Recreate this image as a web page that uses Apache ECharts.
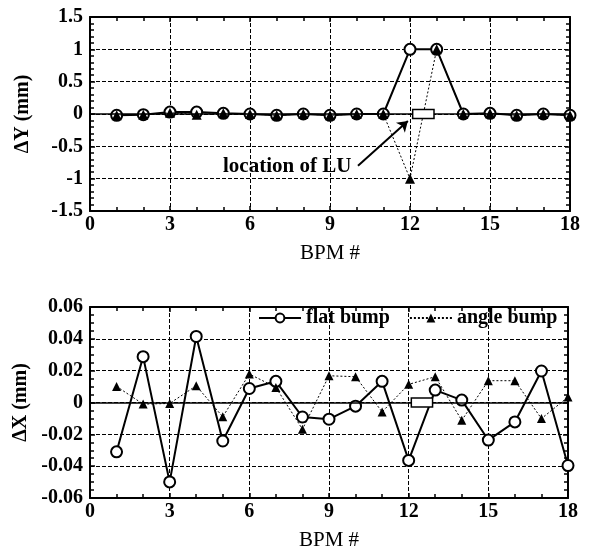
<!DOCTYPE html>
<html>
<head>
<meta charset="utf-8">
<script src="https://cdn.jsdelivr.net/npm/echarts@6/dist/echarts.min.js"></script>
<style>
  html, body { margin: 0; padding: 0; background: #fff; }
  #main { width: 594px; height: 552px; }
</style>
</head>
<body>
<div id="main"></div>
<script>
var bpm = [1, 2, 3, 4, 5, 6, 7, 8, 9, 10, 11, 12, 13, 14, 15, 16, 17, 18];
var dyFlat = [-0.02, -0.01, 0.03, 0.03, 0.01, 0, -0.02, 0, -0.02, 0, 0, 1, 1, 0, 0.01, -0.02, 0, -0.02];
var dyAngle = [-0.02, -0.01, 0.02, -0.01, 0.01, 0, -0.02, 0, -0.02, 0, 0, -1, 1, 0, 0.01, -0.02, 0, -0.02];
var dxFlat = [-0.031, 0.0288, -0.0499, 0.0415, -0.0242, 0.0088, 0.0133, -0.0091, -0.0105, -0.0023,
              0.0133, -0.0364, 0.0078, 0.0015, -0.0236, -0.0122, 0.0198, -0.0396];
var dxAngle = [0.0101, -0.001, -0.0006, 0.0105, -0.009, 0.0179, 0.0095, -0.0168, 0.0168, 0.0162,
               -0.0059, 0.0114, 0.0162, -0.0112, 0.0137, 0.0137, -0.0101, 0.0034];
var luBox = [[12.1, 12.9]];
var arrowFrom = [10.05, -0.8];
var arrowTo = [11.92, -0.11];

var serif = "'Liberation Serif', 'Times New Roman', serif";

function pairs(xs, ys) {
    return xs.map(function (x, i) { return [x, ys[i]]; });
}

function xAxisOf(grid, pos, showLabel) {
    return {
        type: 'value', gridIndex: grid, position: pos,
        min: 0, max: 18, interval: 3,
        axisLine: { show: true, onZero: false, lineStyle: { color: '#000', width: 2 } },
        axisTick: { show: true, inside: true, length: 5, lineStyle: { color: '#000', width: 1.5 } },
        minorTick: { show: true, splitNumber: 3, length: 4, lineStyle: { color: '#000', width: 1.5 } },
        splitLine: { show: showLabel, lineStyle: { color: '#000', width: 1, type: [4, 2] } },
        axisLabel: { show: showLabel, color: '#000', fontFamily: serif, fontWeight: 'bold', fontSize: 20, margin: 4 },
        name: showLabel ? 'BPM #' : '',
        nameLocation: 'middle', nameGap: 32,
        nameTextStyle: { color: '#000', fontFamily: serif, fontSize: 21 }
    };
}

function yAxisOf(grid, pos, showLabel, min, max, step, minor, name) {
    return {
        type: 'value', gridIndex: grid, position: pos,
        min: min, max: max, interval: step,
        axisLine: { show: true, onZero: false, lineStyle: { color: '#000', width: 2 } },
        axisTick: { show: true, inside: true, length: 5, lineStyle: { color: '#000', width: 1.5 } },
        minorTick: { show: true, splitNumber: minor, length: 4, lineStyle: { color: '#000', width: 1.5 } },
        splitLine: { show: showLabel, lineStyle: { color: '#000', width: 1, type: [4, 2] } },
        axisLabel: { show: showLabel, color: '#000', fontFamily: serif, fontWeight: 'bold', fontSize: 20, margin: 7 },
        name: showLabel ? name : '',
        nameLocation: 'middle', nameGap: 57,
        nameTextStyle: { color: '#000', fontFamily: serif, fontWeight: 'bold', fontSize: 20 }
    };
}

function flatSeries(x, y, data, extra) {
    var s = {
        name: 'flat bump', type: 'line', xAxisIndex: x, yAxisIndex: y,
        data: data, symbol: 'emptyCircle', symbolSize: 11, showAllSymbol: true,
        itemStyle: { color: '#000', borderWidth: 1.5 },
        lineStyle: { color: '#000', width: 2 },
        z: 3, animation: false
    };
    if (extra) s.markLine = extra;
    return s;
}

function angleSeries(x, y, data, size) {
    return {
        name: 'angle bump', type: 'line', xAxisIndex: x, yAxisIndex: y,
        data: data, symbol: 'triangle', symbolSize: size, showAllSymbol: true,
        itemStyle: { color: '#000' },
        lineStyle: { color: '#000', width: 1, type: [2, 2] },
        z: 4, animation: false
    };
}

function boxSeries(x, y) {
    return {
        type: 'custom', xAxisIndex: x, yAxisIndex: y, data: luBox, z: 10, silent: true,
        renderItem: function (params, api) {
            var a = api.coord([api.value(0), 0]);
            var b = api.coord([api.value(1), 0]);
            return {
                type: 'rect',
                shape: { x: a[0], y: a[1] - 4.5, width: b[0] - a[0], height: 9 },
                style: { fill: '#fff', stroke: '#000', lineWidth: 1.5 }
            };
        }
    };
}

var zeroLine = { yAxis: 0, lineStyle: { color: '#000', width: 1.5, type: 'solid' } };

var myChart = echarts.init(document.getElementById('main'));
var option = {
    backgroundColor: '#fff',
    animation: false,
    grid: [
        { left: 90, right: 24, top: 17, height: 194 },
        { left: 90, right: 26, top: 307, height: 192 }
    ],
    legend: {
        left: 258, top: 308, padding: 0,
        itemWidth: 42, itemHeight: 11, itemGap: 19,
        data: ['flat bump', 'angle bump'],
        textStyle: { color: '#000', fontFamily: serif, fontWeight: 'bold', fontSize: 20 },
        selectedMode: false
    },
    xAxis: [
        xAxisOf(0, 'bottom', true), xAxisOf(0, 'top', false),
        xAxisOf(1, 'bottom', true), xAxisOf(1, 'top', false)
    ],
    yAxis: [
        yAxisOf(0, 'left', true, -1.5, 1.5, 0.5, 5, 'ΔY (mm)'),
        yAxisOf(0, 'right', false, -1.5, 1.5, 0.5, 5, ''),
        yAxisOf(1, 'left', true, -0.06, 0.06, 0.02, 4, 'ΔX (mm)'),
        yAxisOf(1, 'right', false, -0.06, 0.06, 0.02, 4, '')
    ],
    graphic: [{
        type: 'text', left: 223, top: 156,
        style: { text: 'location of LU', fill: '#000', font: 'bold 21px ' + serif }
    }],
    series: [
        flatSeries(0, 0, pairs(bpm, dyFlat), {
            silent: true, label: { show: false },
            data: [
                [{ xAxis: 0, yAxis: 0, symbol: 'none', lineStyle: { color: '#000', width: 1.5, type: 'solid' } },
                 { xAxis: 18, yAxis: 0, symbol: 'none' }],
                [{ coord: arrowFrom, symbol: 'none', lineStyle: { color: '#000', width: 2, type: 'solid' } },
                 { coord: arrowTo, symbol: 'arrow', symbolSize: 10 }]
            ]
        }),
        angleSeries(0, 0, pairs(bpm, dyAngle), 10),
        boxSeries(0, 0),
        flatSeries(2, 2, pairs(bpm, dxFlat), {
            silent: true, label: { show: false }, symbol: 'none',
            data: [zeroLine]
        }),
        angleSeries(2, 2, pairs(bpm, dxAngle), 9),
        boxSeries(2, 2)
    ]
};
myChart.setOption(option, true);
</script>
</body>
</html>
